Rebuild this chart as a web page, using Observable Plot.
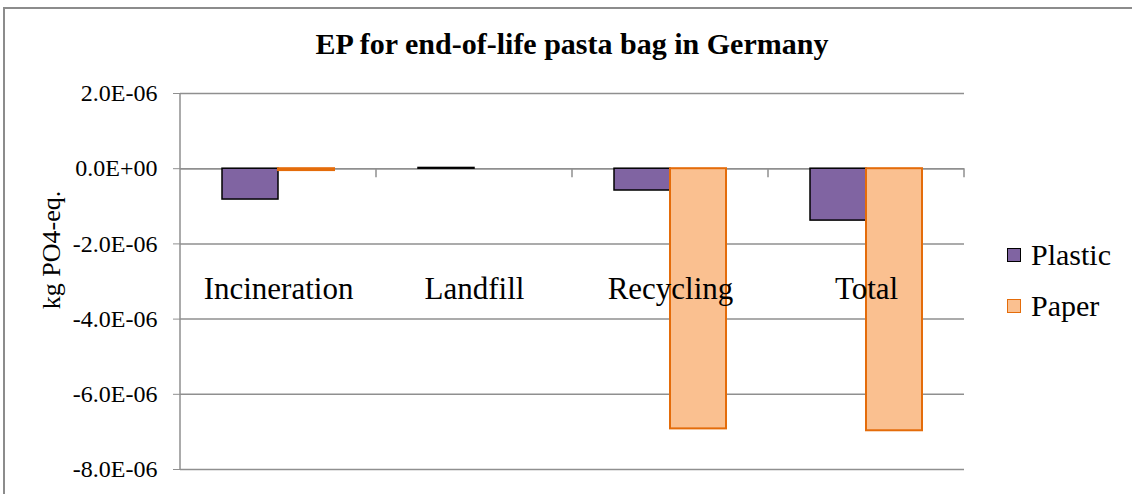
<!DOCTYPE html>
<html><head><meta charset="utf-8">
<script src="https://cdn.jsdelivr.net/npm/d3@7"></script>
<script src="https://cdn.jsdelivr.net/npm/@observablehq/plot@0.6"></script>
<style>
body{margin:0;background:#fff;}
#wrap{position:relative;width:1132px;height:494px;overflow:hidden;font-family:"Liberation Serif","DejaVu Serif",serif;color:#000;}
#wrap div{font-family:"Liberation Serif","DejaVu Serif",serif;}
#border{position:absolute;left:3px;top:7px;width:1300px;height:700px;border-left:2px solid #8c8c8c;border-top:2px solid #8c8c8c;box-sizing:border-box;}
#title{position:absolute;left:0;width:1144px;top:26px;text-align:center;font-weight:bold;font-size:30px;line-height:36px;}
#ylabel{position:absolute;left:52px;top:250px;transform:translate(-50%,-50%) rotate(-90deg);font-size:26px;white-space:nowrap;}
.leg{position:absolute;left:1007px;font-size:30px;line-height:32px;display:flex;align-items:center;}
.leg span.sw{display:inline-block;width:12px;height:12px;margin-right:10px;}
#chart{position:absolute;left:0;top:0;}
#chart svg text{font-family:"Liberation Serif","DejaVu Serif",serif;}
</style></head>
<body>
<div id="wrap">
  <div id="chart"></div>
  <div id="border"></div>
  <div id="title"></div>
  <div id="ylabel"></div>
  <div id="legend"></div>
</div>
<script>
const titleText = "EP for end-of-life pasta bag in Germany";
const yLabel = "kg PO4-eq.";
const categories = ["Incineration", "Landfill", "Recycling", "Total"];
const seriesNames = ["Plastic", "Paper"];
const plasticValues = [-0.82e-6, 0.02e-6, -0.58e-6, -1.38e-6];
const paperValues = [-0.05e-6, 0, -6.92e-6, -6.97e-6];
const yTicks = [2e-6, 0, -2e-6, -4e-6, -6e-6, -8e-6];
const yTickLabels = ["2.0E-06", "0.0E+00", "-2.0E-06", "-4.0E-06", "-6.0E-06", "-8.0E-06"];
const seriesFill = {Plastic: "#8064a2", Paper: "#fac090"};
const seriesStroke = {Plastic: "#000000", Paper: "#e46c0a"};
const serif = "Liberation Serif, DejaVu Serif, serif";

const rows = [];
categories.forEach((c, i) => {
  rows.push({category: c, series: "Plastic", value: plasticValues[i]});
  rows.push({category: c, series: "Paper", value: paperValues[i]});
});

document.getElementById("title").textContent = titleText;
document.getElementById("ylabel").textContent = yLabel;
const legend = document.getElementById("legend");
seriesNames.forEach((s, i) => {
  const d = document.createElement("div");
  d.className = "leg";
  d.style.top = (239 + i * 51) + "px";
  d.innerHTML = `<span class="sw" style="background:${seriesFill[s]};border:1.5px solid ${seriesStroke[s]}"></span>${s}`;
  legend.appendChild(d);
});

const plot = Plot.plot({
  width: 1132, height: 494,
  marginLeft: 180, marginRight: 168, marginTop: 93, marginBottom: 25,
  style: {fontFamily: serif, background: "transparent", color: "#000"},
  fx: {domain: categories, padding: 0, label: null},
  x: {domain: seriesNames, paddingInner: 0, paddingOuter: 0.72, axis: null},
  y: {domain: [-8e-6, 2e-6], label: null},
  marks: [
    Plot.gridY(yTicks, {stroke: "#8f8f8f", strokeOpacity: 1, strokeWidth: 1.5}),
    Plot.ruleY([0], {stroke: "#8f8f8f", strokeWidth: 1.5}),
    ...seriesNames.map(s => Plot.barY(rows.filter(d => d.series === s && d.value !== 0), {
      fx: "category", x: "series", y: "value",
      fill: seriesFill[s], stroke: seriesStroke[s], strokeWidth: s === "Plastic" ? 1.5 : 2
    })),
    Plot.axisY(yTicks, {
      tickFormat: v => yTickLabels[yTicks.indexOf(v)],
      tickSize: 7, tickPadding: 16, fontSize: 24, fontFamily: serif, stroke: "#8f8f8f", fill: "#000", label: null
    }),
    Plot.axisFx({anchor: "top", tickSize: 0, fontSize: 31, fontFamily: serif, dy: 214, label: null, fill: "#000"})
  ]
});
document.getElementById("chart").appendChild(plot);

// left axis line and category boundary ticks from the library scales
const sy = plot.scale("y"), sfx = plot.scale("fx");
const svg = d3.select(plot);
const g = svg.append("g").attr("stroke", "#8f8f8f").attr("stroke-width", 1.5);
const x0 = sfx.apply(categories[0]);
g.append("line").attr("x1", x0).attr("x2", x0)
  .attr("y1", sy.apply(yTicks[0])).attr("y2", sy.apply(yTicks[yTicks.length - 1]));
categories.forEach(c => {
  const xb = sfx.apply(c) + sfx.bandwidth;
  g.append("line").attr("x1", xb).attr("x2", xb)
    .attr("y1", sy.apply(0)).attr("y2", sy.apply(0) + 9);
});
</script>
</body></html>
